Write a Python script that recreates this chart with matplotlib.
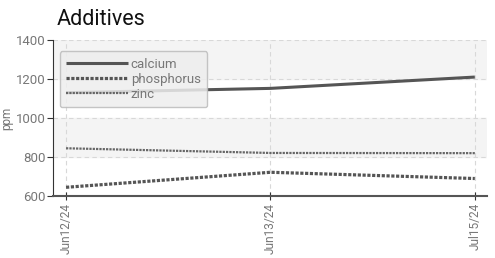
import matplotlib
matplotlib.use("Agg")
import matplotlib.pyplot as plt

dates = ["Jun12/24", "Jun13/24", "Jul15/24"]
calcium = [1130, 1152, 1210]
phosphorus = [645, 722, 690]
zinc = [845, 821, 820]
yticks = [600, 800, 1000, 1200, 1400]

plt.rcParams['font.family'] = ['Roboto', 'DejaVu Sans']

fig = plt.figure(figsize=(4.95, 2.58), dpi=100)
ax = fig.add_axes([0.107, 0.240, 0.877, 0.605])

x = list(range(len(dates)))

# alternating bands
ax.axhspan(1200, 1400, color='#f4f4f4', zorder=0)
ax.axhspan(800, 1000, color='#f4f4f4', zorder=0)

ax.plot(x, calcium, color='#555555', linewidth=2.2, solid_capstyle='butt', label='calcium', zorder=3)
ax.plot(x, phosphorus, color='#555555', linewidth=2.3, linestyle=(0, (1, 0.5)), label='phosphorus', zorder=3)
ax.plot(x, zinc, color='#666666', linewidth=1.6, linestyle=(0, (1, 0.5)), label='zinc', zorder=3)

ax.set_xlim(-0.064, 2.06)
ax.set_ylim(600, 1400)
ax.set_xticks(x)
ax.set_xticklabels(dates, rotation=90, fontsize=8.6, color='#777777')
ax.set_yticks(yticks)
ax.set_yticklabels([str(v) for v in yticks], fontsize=9.5, color='#777777')
ax.tick_params(axis='x', direction='inout', length=6, color='#333333', pad=2)
ax.tick_params(axis='y', direction='out', length=4, color='#333333', pad=1)

ax.grid(True, linestyle=(0, (4, 3)), color='#d8d8d8', linewidth=0.8)
ax.set_axisbelow(True)

ax.spines['top'].set_visible(False)
ax.spines['right'].set_visible(False)
ax.spines['left'].set_color('#333333')
ax.spines['bottom'].set_color('#555555')
ax.spines['bottom'].set_linewidth(1.5)

ax.set_ylabel('ppm', fontsize=8.5, color='#777777', labelpad=2)
fig.text(0.115, 0.885, 'Additives', fontsize=15.5, color='#111111', ha='left', va='bottom')

leg = ax.legend(loc='upper left', bbox_to_anchor=(0.0, 0.97), fontsize=9.5, frameon=True,
                fancybox=True, handlelength=4.7, handletextpad=0.2, labelspacing=0.15,
                borderpad=0.5, labelcolor='#777777')
leg.get_frame().set_facecolor('#eeeeee')
leg.get_frame().set_edgecolor('#bbbbbb')
leg.get_frame().set_alpha(0.85)

fig.savefig('out.png', dpi=100)
